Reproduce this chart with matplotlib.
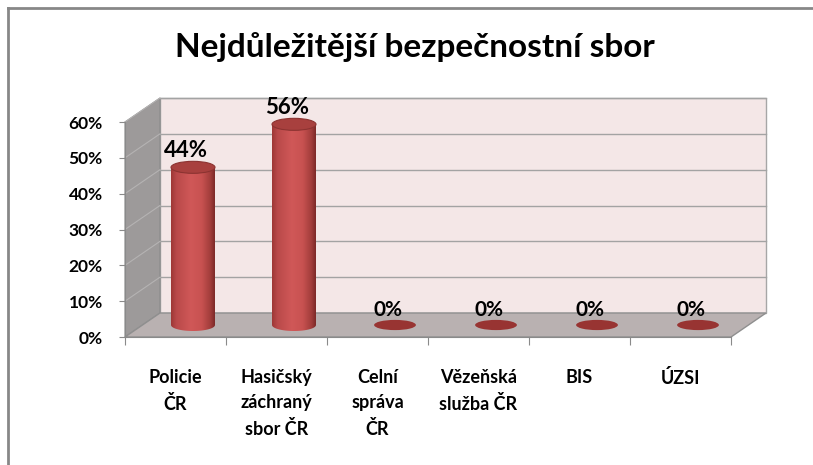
"""Nejdůležitější bezpečnostní sbor – pseudo-3D cylinder chart."""
import numpy as np
import matplotlib; matplotlib.use("Agg")
import matplotlib.pyplot as plt
from matplotlib.patches import Polygon, Ellipse, PathPatch
from matplotlib.path import Path

plt.rcParams["font.family"] = ["Lato", "DejaVu Sans"]

categories = ["Policie\nČR", "Hasičský\nzáchraný\nsbor ČR", "Celní\nspráva\nČR",
              "Vězeňská\nslužba ČR", "BIS", "ÚZSI"]
values = [44, 56, 0, 0, 0, 0]
yticks = [0, 10, 20, 30, 40, 50, 60]
title = "Nejdůležitější bezpečnostní sbor"

W, H = 813, 465
fig = plt.figure(figsize=(W / 100, H / 100), dpi=100)
# front plane of the 3D box, in pixels
L, R, B, T = 125, 731, 337, 122
ax = fig.add_axes([L / W, 1 - B / H, (R - L) / W, (B - T) / H])
ax.set_xlim(0, len(categories))
ax.set_ylim(0, 60)

# depth offset (px -> data units)
px_x = len(categories) / (R - L)
px_y = 60 / (B - T)
DX, DY = 35 * px_x, 24 * px_y
n = len(categories)
ymax = yticks[-1]

kw = dict(clip_on=False)
# back wall
ax.add_patch(Polygon([(DX, DY), (n + DX, DY), (n + DX, ymax + DY), (DX, ymax + DY)],
                     closed=True, fc="#f4e7e7", ec="#a6a6a6", lw=1.0, zorder=1, **kw))
# side wall
ax.add_patch(Polygon([(0, 0), (DX, DY), (DX, ymax + DY), (0, ymax)],
                     closed=True, fc="#9d9a9a", ec="#8a8a8a", lw=0.8, zorder=1, **kw))
# floor
ax.add_patch(Polygon([(0, 0), (n, 0), (n + DX, DY), (DX, DY)],
                     closed=True, fc="#b9b1b1", ec="#8f8f8f", lw=1.0, zorder=2, **kw))
# gridlines
for t in yticks[1:]:
    ax.plot([DX, n + DX], [t + DY, t + DY], color="#a3a3a3", lw=1.0, zorder=1.5, **kw)
    ax.plot([0, DX], [t, t + DY], color="#b5b3b3", lw=0.8, zorder=1.5, **kw)

# cylinders
cmap = matplotlib.colors.LinearSegmentedColormap.from_list(
    "cyl", [(0, "#9e3836"), (0.12, "#b9494a"), (0.45, "#d05858"), (0.7, "#c85251"),
            (0.9, "#a23d3b"), (1, "#7e2a29")])
bw = 44 * px_x
eh = 12 * px_y
for i, v in enumerate(values):
    cx = i + 0.5 + DX / 2
    y0 = DY / 2
    if v > 0:
        y1 = y0 + v
        th = np.linspace(0, np.pi, 30)
        bot = [(cx + bw / 2 * np.cos(a), y0 - eh / 2 * np.sin(a)) for a in th]
        path = Path([(cx - bw / 2, y1), (cx + bw / 2, y1)] + bot + [(cx - bw / 2, y1)])
        clip = PathPatch(path, transform=ax.transData, fc="none", ec="none")
        ax.add_patch(clip)
        im = ax.imshow(np.linspace(0, 1, 100)[None, :], cmap=cmap, aspect="auto",
                       extent=[cx - bw / 2, cx + bw / 2, y0 - eh, y1], zorder=3)
        im.set_clip_path(clip)
        ax.add_patch(Ellipse((cx, y1), bw, eh, fc="#a8403e", ec="#8c3331", lw=0.8,
                             zorder=4, **kw))
        ax.text(cx - 7 * px_x, y1 + 6 * px_y, f"{v}%", ha="center", va="bottom",
                fontsize=16, fontweight="bold", zorder=5, **kw)
    else:
        ax.add_patch(Ellipse((cx, y0), bw * 0.95, eh * 0.85, fc="#983432", ec="none",
                             zorder=4, **kw))
        ax.text(cx - 7 * px_x, y0 + 5 * px_y, f"{v}%", ha="center", va="bottom",
                fontsize=15, fontweight="bold", zorder=5, **kw)

# axes styling
for s in ["top", "right"]:
    ax.spines[s].set_visible(False)
for s in ["left", "bottom"]:
    ax.spines[s].set_color("#8a8a8a")
    ax.spines[s].set_zorder(6)
ax.patch.set_visible(False)
ax.set_yticks(yticks)
ax.set_yticklabels([f"{t}%" for t in yticks], fontsize=12.5, fontweight="bold")
ax.set_xticks(range(n + 1))
ax.set_xticklabels([])
ax.set_xticks(np.arange(n) + 0.5, minor=True)
ax.set_xticklabels(categories, minor=True, fontsize=13, fontweight="bold",
                   linespacing=1.6, va="top")
ax.tick_params(axis="x", which="minor", length=0, pad=23)
ax.tick_params(axis="x", which="major", length=6, color="#8a8a8a")
ax.tick_params(axis="y", length=4, color="#8a8a8a", pad=12)

fig.text(415 / W, 1 - 47 / H, title, ha="center", va="center", fontsize=24,
         fontweight="bold")

# chart frame (top and left visible)
fig.add_artist(plt.Line2D([8 / W, 1], [1 - 8 / H, 1 - 8 / H], color="#878787", lw=2))
fig.add_artist(plt.Line2D([8 / W, 8 / W], [0, 1 - 8 / H], color="#878787", lw=2))

fig.savefig("out.png", dpi=100)
